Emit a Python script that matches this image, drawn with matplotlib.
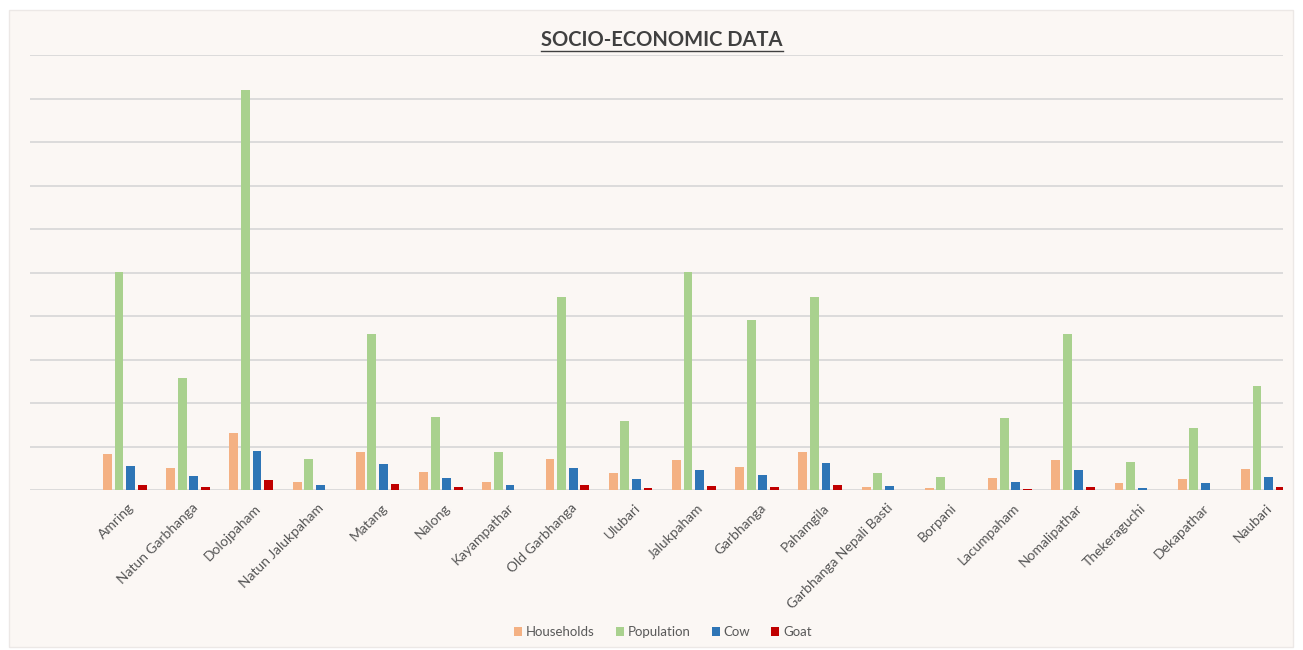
import numpy as np
import matplotlib
matplotlib.use('Agg')
from matplotlib import pyplot as plt
from matplotlib.patches import Rectangle
from matplotlib.lines import Line2D

villages = ['Amring', 'Natun Garbhanga', 'Dolojpaham', 'Natun Jalukpaham', 'Matang',
            'Nalong', 'Kayampathar', 'Old Garbhanga', 'Ulubari', 'Jalukpaham',
            'Garbhanga', 'Pahamgila', 'Garbhanga Nepali Basti', 'Borpani',
            'Lacumpaham', 'Nomalipathar', 'Thekeraguchi', 'Dekapathar', 'Naubari']
households = [166, 100, 262, 36, 174, 82, 36, 142, 78, 138, 106, 174, 14, 10, 56, 138, 32, 50, 96]
population = [1004, 514, 1840, 142, 716, 334, 174, 886, 316, 1004, 780, 886, 78, 60, 330, 716, 128, 284, 478]
cow = [110, 64, 178, 22, 120, 56, 22, 100, 50, 92, 68, 124, 18, 0, 36, 92, 10, 32, 60]
goat = [22, 14, 46, 0, 28, 14, 0, 22, 10, 18, 14, 22, 0, 0, 6, 14, 0, 0, 14]

series = [('Households', households, '#F4B183'),
          ('Population', population, '#A9D18E'),
          ('Cow', cow, '#2E75B6'),
          ('Goat', goat, '#C00000')]

plt.rcParams['font.family'] = ['Lato', 'DejaVu Sans']

fig = plt.figure(figsize=(13.03, 6.5), dpi=100)
fig.patch.set_facecolor('white')

# chart area background, kept behind everything else
bg = Rectangle((9 / 1303, 3 / 650), 1284 / 1303, 637 / 650,
               transform=fig.transFigure, facecolor='#FBF7F4',
               edgecolor='#ECE8E6', linewidth=1, zorder=-5)
fig.add_artist(bg)

ax = fig.add_axes([30 / 1303, 1 - 490 / 650, 1253 / 1303, 435 / 650])
ax.set_zorder(2)
ax.set_facecolor('none')

x = np.arange(len(villages))
step = 0.183
width = 0.14
for i, (name, vals, color) in enumerate(series):
    ax.bar(x + (i - 1.5) * step, vals, width, color=color, label=name, zorder=3)

ax.set_xlim(-1.5, 18.32)
ax.set_ylim(0, 2000)
ax.set_yticks(np.arange(0, 2001, 200))
ax.yaxis.grid(True, color='#D6D6D6', linewidth=1.2, zorder=0)
ax.set_axisbelow(True)
ax.tick_params(axis='y', left=False, labelleft=False)
ax.tick_params(axis='x', bottom=False, pad=5)
for s in ax.spines.values():
    s.set_visible(False)

ax.set_xticks(x + 0.05)
ax.set_xticklabels(villages, rotation=45, ha='right', rotation_mode='anchor',
                   fontsize=10, color='#555555')

leg = fig.legend(loc='center', bbox_to_anchor=(663 / 1303, 1 - 632 / 650), ncol=4,
                 frameon=False, fontsize=9.5, handlelength=0.6, handleheight=0.6,
                 handletextpad=0.3, columnspacing=1.6)
for t in leg.get_texts():
    t.set_color('#595959')

title = fig.text(662 / 1303, 1 - 40 / 650, 'SOCIO-ECONOMIC DATA', ha='center', va='center',
                 fontsize=14.5, fontweight='bold', color='#404040')

# underline the title
fig.canvas.draw()
bb = title.get_window_extent().transformed(fig.transFigure.inverted())
fig.add_artist(Line2D([bb.x0, bb.x1], [bb.y0 - 0.002, bb.y0 - 0.002],
                      transform=fig.transFigure, color='#404040', linewidth=1))

fig.savefig('out.png', dpi=100, facecolor=fig.get_facecolor())
